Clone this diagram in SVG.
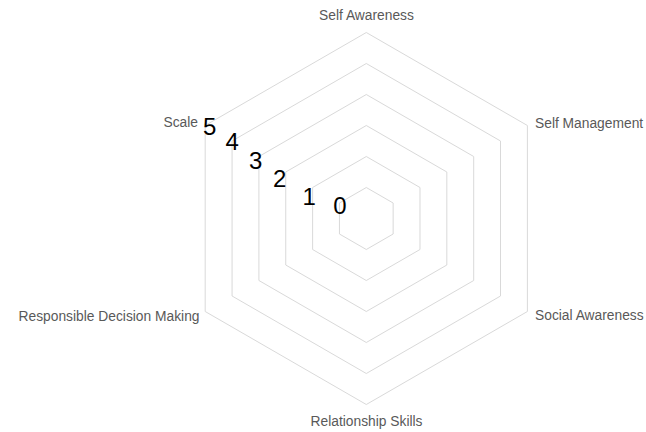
<svg xmlns="http://www.w3.org/2000/svg" width="646" height="432" viewBox="0 0 646 432">
<style>
.grid{fill:none;stroke:#d9d9d9;stroke-width:1}
.lbl{font-family:"Liberation Sans",Arial,sans-serif;font-size:13.8px;fill:#595959}
.num{font-family:"Liberation Sans",Arial,sans-serif;font-size:24px;fill:#000}
</style>
<rect width="646" height="432" fill="#fff"/>
<g id="grid">
<polygon class="grid" points="366.3,187.5 393.15,203 393.15,234 366.3,249.5 339.45,234 339.45,203"/>
<polygon class="grid" points="366.3,156.5 419.99,187.5 419.99,249.5 366.3,280.5 312.61,249.5 312.61,187.5"/>
<polygon class="grid" points="366.3,125.5 446.84,172 446.84,265 366.3,311.5 285.76,265 285.76,172"/>
<polygon class="grid" points="366.3,94.5 473.69,156.5 473.69,280.5 366.3,342.5 258.91,280.5 258.91,156.5"/>
<polygon class="grid" points="366.3,63.5 500.53,141 500.53,296 366.3,373.5 232.07,296 232.07,141"/>
<polygon class="grid" points="366.3,32.5 527.4,125.5 527.4,311.5 366.3,404.5 205.2,311.5 205.2,125.5"/>
</g>
<g id="axis-labels">
<text class="lbl" x="366.5" y="19.5" text-anchor="middle">Self Awareness</text>
<text class="lbl" x="535" y="128.3">Self Management</text>
<text class="lbl" x="535" y="320.3">Social Awareness</text>
<text class="lbl" x="366.5" y="426" text-anchor="middle">Relationship Skills</text>
<text class="lbl" x="199.5" y="320.8" text-anchor="end">Responsible Decision Making</text>
<text class="lbl" x="198" y="127.3" text-anchor="end">Scale</text>
</g>
<g id="scale-values">
<text class="num" x="203" y="135">5</text>
<text class="num" x="225.5" y="150">4</text>
<text class="num" x="249" y="169.3">3</text>
<text class="num" x="273" y="187.3">2</text>
<text class="num" x="302.5" y="205">1</text>
<text class="num" x="333.3" y="214">0</text>
</g>
</svg>
